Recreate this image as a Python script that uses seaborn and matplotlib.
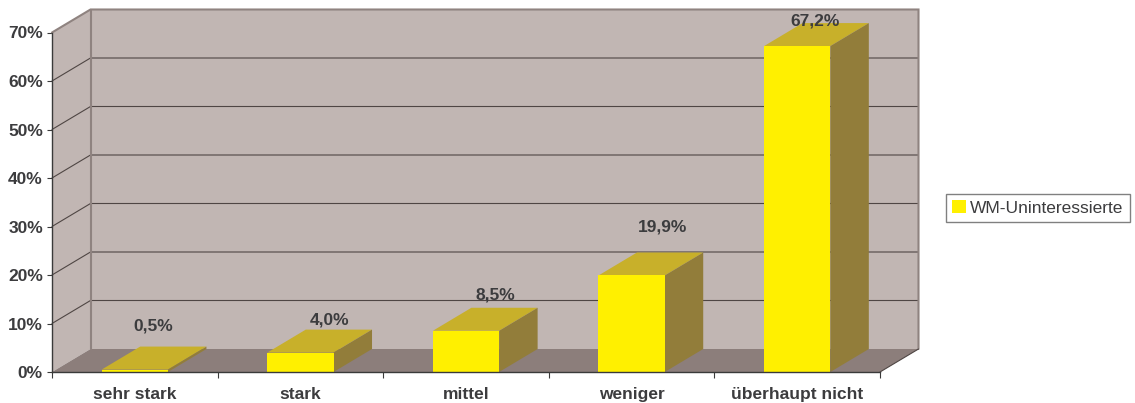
import pandas as pd
import seaborn as sns
from matplotlib import pyplot as plt

categories = ['sehr stark', 'stark', 'mittel', 'weniger', 'überhaupt nicht']
values = [0.5, 4.0, 8.5, 19.9, 67.2]
series_name = 'WM-Uninteressierte'
y_ticks = [0, 10, 20, 30, 40, 50, 60, 70]

W, H = 1135, 403
# fake 3d depth in px, turned into data units further down
DEPTH_X, DEPTH_Y = 38.5, 23
# how far each value label sits from the back edge of its bar top (px)
label_nudge = [(-1, 21), (10, 10), (10, 13), (12, 25), (-1, 2)]

YELLOW = '#fff000'
TOP = '#c8b02a'
SIDE = '#927d3a'
WALL = '#c1b6b3'
FLOOR = '#8c7e7b'
EDGE = '#8f8380'
GRID = '#4f4644'
TEXT = '#3c3c3e'

sns.set_theme(style='white')
plt.rcParams['font.family'] = ['Liberation Sans', 'DejaVu Sans']

fig = plt.figure(figsize=(W / 100, H / 100), dpi=100, facecolor='white')
ax = fig.add_axes([52 / W, 1 - 372 / H, 828 / W, 339.5 / H])

df = pd.DataFrame({'kat': categories, 'wert': values, 'gruppe': series_name})
sns.barplot(data=df, x='kat', y='wert', hue='gruppe', palette=[YELLOW], width=0.4,
            dodge=False, saturation=1, ax=ax, zorder=5, linewidth=0)

ax.set_xlim(-0.5, 4.5)
ax.set_ylim(0, 70)
dx = DEPTH_X / (828 / 5)
dy = DEPTH_Y / (339.5 / 70)
x0, x1 = -0.5, 4.5
top = y_ticks[-1]

# walls and floor
ax.fill([x0 + dx, x1 + dx, x1 + dx, x0 + dx], [dy, dy, top + dy, top + dy],
        color=WALL, lw=0, clip_on=False, zorder=0)
ax.fill([x0, x0 + dx, x0 + dx, x0], [0, dy, top + dy, top], color=WALL, lw=0, clip_on=False, zorder=0)
ax.fill([x0, x1, x1 + dx, x0 + dx], [0, 0, dy, dy], color=FLOOR, lw=0, clip_on=False, zorder=1)

for t in y_ticks[1:-1]:
    ax.plot([x0, x0 + dx, x1 + dx], [t, t + dy, t + dy], color=GRID, lw=0.8, clip_on=False, zorder=2)
ax.plot([x0, x0 + dx, x1 + dx, x1 + dx], [top, top + dy, top + dy, dy], color=EDGE, lw=1.5,
        clip_on=False, zorder=2, solid_joinstyle='miter')
ax.plot([x0 + dx, x0 + dx], [dy, top + dy], color=EDGE, lw=1.5, clip_on=False, zorder=2)
ax.plot([x1, x1 + dx], [0, dy], color=GRID, lw=0.8, clip_on=False, zorder=2)

# top and side faces from the bars seaborn drew
for i, bar in enumerate(ax.patches[:len(values)]):
    left, right = bar.get_x(), bar.get_x() + bar.get_width()
    h = bar.get_height()
    ax.fill([left, right, right + dx, left + dx], [h, h, h + dy, h + dy],
            color=TOP, lw=0, clip_on=False, zorder=3)
    ax.fill([right, right + dx, right + dx, right], [0, dy, h + dy, h],
            color=SIDE, lw=0, clip_on=False, zorder=3)
    txt = f'{values[i]:.1f}'.replace('.', ',') + '%'
    ax.annotate(txt, ((left + right) / 2 + dx / 2, h + dy), xytext=label_nudge[i],
                textcoords='offset pixels', ha='center', va='center', fontsize=12.5,
                fontweight='bold', color=TEXT, zorder=6, annotation_clip=False)

sns.despine(ax=ax, top=True, right=True)
for s in ['left', 'bottom']:
    ax.spines[s].set_color('#3a3a3a')
    ax.spines[s].set_linewidth(1)
    ax.spines[s].set_zorder(6)

ax.set_xlabel('')
ax.set_ylabel('')
ax.set_yticks(y_ticks)
ax.set_yticklabels([f'{t}%' for t in y_ticks])
ax.tick_params(axis='y', left=True, length=3.5, width=0.8, color='#3a3a3a', pad=3,
               labelsize=12.5, labelcolor=TEXT)
ax.set_xticks([x0 + i for i in range(6)])
ax.set_xticklabels([])
ax.set_xticks(range(5), categories, minor=True)
ax.tick_params(axis='x', which='major', bottom=True, length=4.5, width=0.8, color='#3a3a3a')
ax.tick_params(axis='x', which='minor', bottom=False, pad=6.5, labelsize=12.5, labelcolor=TEXT)
for lab in ax.get_yticklabels() + ax.get_xticklabels(minor=True):
    lab.set_fontweight('bold')

handles, labels = ax.get_legend_handles_labels()
ax.legend_.remove()
fig.legend(handles, labels, loc='center left', bbox_to_anchor=(946 / W, 1 - 208 / H),
           fontsize=12.5, frameon=True, fancybox=False, edgecolor='#808080', framealpha=1,
           handlelength=0.8, handleheight=0.8, handletextpad=0.25, borderpad=0.35,
           labelcolor=TEXT, borderaxespad=0)

fig.savefig('out.png', dpi=100, facecolor='white')
